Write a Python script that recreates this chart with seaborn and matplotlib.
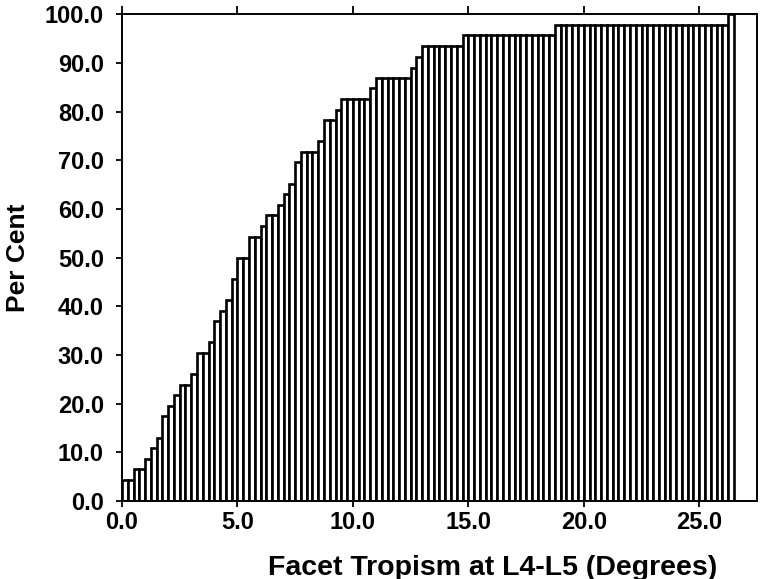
import numpy as np
import pandas as pd
import matplotlib
matplotlib.use("Agg")
import matplotlib.pyplot as plt
import seaborn as sns

# x categories: start of each 0.25-degree class
bin_start = np.arange(0.0, 26.5, 0.25)
# cumulative per cent (106 classes)
per_cent = [
    4.3, 4.3, 6.5, 6.5, 8.7, 10.9, 13.0, 17.4, 19.6, 21.7,
    23.9, 23.9, 26.1, 30.4, 30.4, 32.6, 37.0, 39.1, 41.3, 45.7,
    50.0, 50.0, 54.3, 54.3, 56.5, 58.7, 58.7, 60.9, 63.0, 65.2,
    69.6, 71.7, 71.7, 71.7, 73.9, 78.3, 78.3, 80.4, 82.6, 82.6,
    82.6, 82.6, 82.6, 84.8, 87.0, 87.0, 87.0, 87.0, 87.0, 87.0,
    89.1, 91.3, 93.5, 93.5, 93.5, 93.5, 93.5, 93.5, 93.5, 95.7,
    95.7, 95.7, 95.7, 95.7, 95.7, 95.7, 95.7, 95.7, 95.7, 95.7,
    95.7, 95.7, 95.7, 95.7, 95.7, 97.8, 97.8, 97.8, 97.8, 97.8,
    97.8, 97.8, 97.8, 97.8, 97.8, 97.8, 97.8, 97.8, 97.8, 97.8,
    97.8, 97.8, 97.8, 97.8, 97.8, 97.8, 97.8, 97.8, 97.8, 97.8,
    97.8, 97.8, 97.8, 97.8, 97.8, 100.0,
]
x_ticks = [0, 5, 10, 15, 20, 25]
x_tick_labels = ["0.0", "5.0", "10.0", "15.0", "20.0", "25.0"]
y_ticks = [0, 10, 20, 30, 40, 50, 60, 70, 80, 90, 100]
y_tick_labels = ["0.0", "10.0", "20.0", "30.0", "40.0", "50.0",
                 "60.0", "70.0", "80.0", "90.0", "100.0"]

df = pd.DataFrame({"deg": bin_start + 0.125, "pct": per_cent})

sns.set_style("ticks")
plt.rcParams["font.family"] = ["Liberation Sans", "DejaVu Sans"]
plt.rcParams["font.weight"] = "bold"

fig = plt.figure(figsize=(7.61, 5.79), dpi=100)
ax = fig.add_axes([0.1603, 0.1347, 0.8344, 0.8403])

sns.histplot(data=df, x="deg", weights="pct", binwidth=0.25,
             binrange=(0.0, 26.5), stat="count", fill=True,
             color="white", edgecolor="black", linewidth=1.9,
             alpha=1.0, ax=ax)

ax.set_xlim(0, 27.5)
ax.set_ylim(0, 100)
ax.set_xticks(x_ticks)
ax.set_xticklabels(x_tick_labels)
ax.set_yticks(y_ticks)
ax.set_yticklabels(y_tick_labels)

for s in ["left", "right", "top", "bottom"]:
    ax.spines[s].set_visible(True)
    ax.spines[s].set_linewidth(1.4)
    ax.spines[s].set_color("black")

ax.tick_params(axis="y", direction="out", length=4, width=1.3,
               labelsize=17, colors="black", pad=9)
ax.tick_params(axis="x", direction="out", length=4, width=1.3,
               labelsize=17, colors="black", pad=3, top=True)
ax.tick_params(axis="x", which="major", top=True, labeltop=False)
for t in ax.xaxis.get_ticklines()[1::2]:
    t.set_markersize(6)

ax.set_xlabel("Facet Tropism at L4-L5 (Degrees)", fontsize=20.5,
              fontweight="bold", color="black")
ax.set_ylabel("Per Cent", fontsize=19, fontweight="bold",
              color="black")
ax.xaxis.set_label_coords(0.583, -0.11)
ax.yaxis.set_label_coords(-0.145, 0.5)
for lab in ax.get_xticklabels() + ax.get_yticklabels():
    lab.set_fontweight("bold")

fig.savefig("out.png", dpi=100)
